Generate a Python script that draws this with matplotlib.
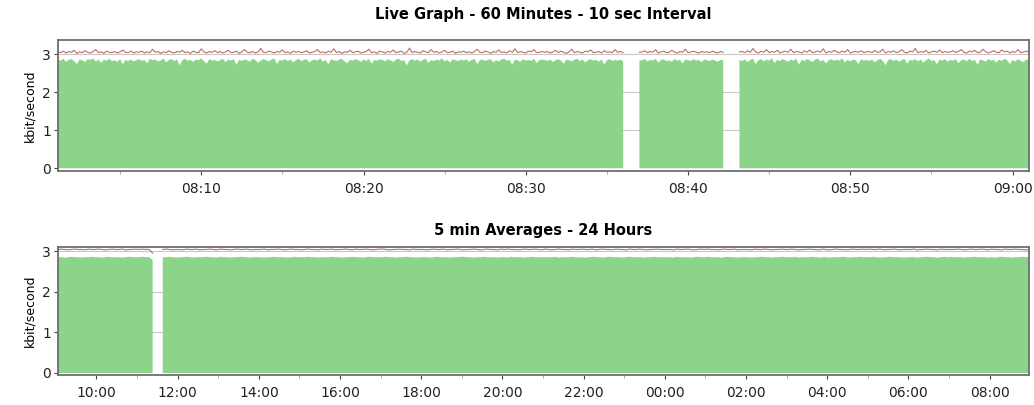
import numpy as np
import pandas as pd
import matplotlib
matplotlib.use('Agg')
import matplotlib.pyplot as plt
import matplotlib.dates as mdates

nan = np.nan

# --- Live graph: 10 sec samples, 08:01:10 .. 09:01:00 (rows of 5 minutes) ---
live_start = '2024-01-01 08:01:10'
live_traffic = [
    2.86, 2.83, 2.88, 2.80, 2.85, 2.87, 2.82, 2.74, 2.86, 2.84, 2.79, 2.87, 2.85, 2.89, 2.81, 2.86, 2.77, 2.85, 2.83, 2.88, 2.82, 2.84, 2.80, 2.87, 2.73, 2.85, 2.82, 2.86, 2.81, 2.84,
    2.87, 2.82, 2.85, 2.76, 2.88, 2.84, 2.86, 2.81, 2.83, 2.89, 2.78, 2.85, 2.87, 2.82, 2.86, 2.71, 2.84, 2.88, 2.83, 2.85, 2.80, 2.86, 2.84, 2.89, 2.82, 2.75, 2.87, 2.83, 2.85, 2.81,
    2.84, 2.88, 2.79, 2.86, 2.83, 2.87, 2.72, 2.85, 2.82, 2.86, 2.84, 2.80, 2.88, 2.85, 2.77, 2.83, 2.87, 2.84, 2.81, 2.86, 2.89, 2.74, 2.85, 2.83, 2.87, 2.82, 2.86, 2.79, 2.84, 2.88,
    2.82, 2.85, 2.87, 2.78, 2.84, 2.86, 2.83, 2.89, 2.80, 2.85, 2.73, 2.87, 2.84, 2.82, 2.86, 2.88, 2.81, 2.76, 2.85, 2.83, 2.87, 2.84, 2.80, 2.86, 2.82, 2.88, 2.75, 2.85, 2.83, 2.86,
    2.85, 2.81, 2.87, 2.84, 2.79, 2.86, 2.88, 2.82, 2.85, 2.70, 2.84, 2.87, 2.83, 2.86, 2.80, 2.85, 2.88, 2.77, 2.84, 2.82, 2.86, 2.83, 2.89, 2.81, 2.85, 2.78, 2.87, 2.84, 2.82, 2.86,
    2.83, 2.87, 2.80, 2.85, 2.88, 2.74, 2.84, 2.86, 2.82, 2.85, 2.87, 2.79, 2.84, 2.81, 2.86, 2.88, 2.83, 2.85, 2.72, 2.86, 2.84, 2.80, 2.87, 2.83, 2.85, 2.82, 2.88, 2.77, 2.84, 2.86,
    2.85, 2.82, 2.86, 2.79, 2.84, 2.87, 2.83, 2.75, 2.86, 2.84, 2.81, 2.85, 2.88, 2.82, 2.86, 2.78, 2.84, 2.87, 2.83, 2.85, 2.80, 2.86, 2.73, 2.84, 2.87, 2.82, 2.85, 2.83, 2.86, 2.81,
    nan, nan, nan, nan, nan, 2.83, 2.84, 2.87, 2.81, 2.85, 2.83, 2.88, 2.78, 2.85, 2.86, 2.82, 2.84, 2.80, 2.87, 2.83, 2.85, 2.76, 2.86, 2.84, 2.82, 2.87, 2.83, 2.85, 2.79, 2.86,
    2.84, 2.82, 2.86, 2.83, 2.80, 2.85, 2.84, nan, nan, nan, nan, nan, 2.85, 2.82, 2.86, 2.79, 2.85, 2.88, 2.74, 2.84, 2.87, 2.81, 2.86, 2.83, 2.89, 2.77, 2.85, 2.82, 2.87, 2.84,
    2.80, 2.86, 2.83, 2.88, 2.72, 2.85, 2.82, 2.87, 2.84, 2.79, 2.86, 2.88, 2.81, 2.85, 2.76, 2.84, 2.87, 2.82, 2.86, 2.83, 2.89, 2.78, 2.85, 2.81, 2.86, 2.84, 2.74, 2.87, 2.83, 2.85,
    2.82, 2.86, 2.79, 2.84, 2.88, 2.83, 2.71, 2.85, 2.87, 2.82, 2.86, 2.80, 2.84, 2.88, 2.75, 2.85, 2.83, 2.87, 2.81, 2.86, 2.78, 2.84, 2.89, 2.82, 2.85, 2.73, 2.86, 2.83, 2.87, 2.80,
    2.85, 2.83, 2.87, 2.76, 2.84, 2.86, 2.81, 2.88, 2.82, 2.85, 2.72, 2.86, 2.84, 2.80, 2.87, 2.83, 2.85, 2.78, 2.86, 2.82, 2.88, 2.84, 2.74, 2.85, 2.81, 2.87, 2.83, 2.79, 2.86, 2.84,
]
live_max = [
    3.06, 3.04, 3.08, 3.03, 3.07, 3.05, 3.10, 3.02, 3.06, 3.04, 3.09, 3.05, 3.03, 3.07, 3.12, 3.04, 3.06, 3.02, 3.08, 3.05, 3.04, 3.07, 3.03, 3.06, 3.11, 3.05, 3.04, 3.08, 3.03, 3.06,
    3.05, 3.08, 3.03, 3.06, 3.04, 3.13, 3.05, 3.07, 3.02, 3.06, 3.04, 3.09, 3.05, 3.03, 3.07, 3.05, 3.10, 3.04, 3.06, 3.02, 3.08, 3.05, 3.04, 3.14, 3.06, 3.03, 3.07, 3.05, 3.09, 3.04,
    3.07, 3.03, 3.06, 3.10, 3.04, 3.05, 3.08, 3.02, 3.06, 3.12, 3.05, 3.04, 3.07, 3.03, 3.06, 3.15, 3.05, 3.04, 3.08, 3.06, 3.03, 3.07, 3.05, 3.11, 3.04, 3.06, 3.02, 3.08, 3.05, 3.07,
    3.04, 3.06, 3.09, 3.03, 3.05, 3.07, 3.12, 3.04, 3.06, 3.03, 3.08, 3.05, 3.14, 3.04, 3.07, 3.02, 3.06, 3.05, 3.10, 3.04, 3.06, 3.08, 3.03, 3.05, 3.07, 3.13, 3.04, 3.06, 3.02, 3.08,
    3.06, 3.03, 3.07, 3.05, 3.11, 3.04, 3.06, 3.08, 3.02, 3.05, 3.16, 3.04, 3.07, 3.05, 3.03, 3.09, 3.06, 3.04, 3.12, 3.05, 3.07, 3.03, 3.06, 3.10, 3.04, 3.05, 3.08, 3.02, 3.06, 3.05,
    3.08, 3.04, 3.06, 3.03, 3.07, 3.13, 3.05, 3.04, 3.08, 3.06, 3.02, 3.07, 3.05, 3.11, 3.04, 3.06, 3.03, 3.09, 3.05, 3.14, 3.04, 3.07, 3.05, 3.03, 3.08, 3.06, 3.12, 3.04, 3.05, 3.07,
    3.05, 3.07, 3.03, 3.06, 3.10, 3.04, 3.08, 3.05, 3.02, 3.06, 3.13, 3.04, 3.07, 3.05, 3.03, 3.08, 3.06, 3.11, 3.04, 3.05, 3.07, 3.03, 3.09, 3.05, 3.06, 3.04, 3.12, 3.05, 3.07, 3.04,
    nan, nan, nan, nan, nan, 3.05, 3.06, 3.09, 3.04, 3.07, 3.05, 3.12, 3.03, 3.06, 3.08, 3.04, 3.05, 3.10, 3.06, 3.03, 3.07, 3.05, 3.13, 3.04, 3.06, 3.08, 3.05, 3.03, 3.07, 3.05,
    3.06, 3.04, 3.08, 3.05, 3.03, 3.07, 3.05, nan, nan, nan, nan, nan, 3.06, 3.07, 3.04, 3.09, 3.05, 3.15, 3.06, 3.03, 3.08, 3.05, 3.12, 3.04, 3.07, 3.05, 3.10, 3.03, 3.06, 3.08,
    3.05, 3.13, 3.04, 3.07, 3.06, 3.03, 3.09, 3.05, 3.11, 3.04, 3.06, 3.08, 3.05, 3.14, 3.03, 3.07, 3.05, 3.10, 3.06, 3.04, 3.08, 3.05, 3.12, 3.03, 3.06, 3.07, 3.05, 3.09, 3.04, 3.06,
    3.07, 3.04, 3.10, 3.05, 3.06, 3.13, 3.03, 3.07, 3.05, 3.09, 3.04, 3.06, 3.12, 3.05, 3.03, 3.08, 3.06, 3.15, 3.04, 3.07, 3.05, 3.10, 3.03, 3.06, 3.08, 3.05, 3.11, 3.04, 3.07, 3.05,
    3.06, 3.09, 3.04, 3.07, 3.12, 3.05, 3.03, 3.08, 3.06, 3.10, 3.04, 3.05, 3.13, 3.07, 3.03, 3.06, 3.09, 3.05, 3.04, 3.11, 3.06, 3.08, 3.03, 3.07, 3.05, 3.12, 3.04, 3.06, 3.08, 3.05,
]

# --- 5 min averages: 09:03 .. 08:58 next day (rows of one hour) ---
avg_start = '2024-01-01 09:03'
avg_traffic = [
    2.85, 2.85, 2.84, 2.85, 2.86, 2.85, 2.85, 2.84, 2.85, 2.85, 2.86, 2.85,
    2.85, 2.84, 2.85, 2.86, 2.85, 2.85, 2.85, 2.84, 2.85, 2.86, 2.85, 2.85,
    2.85, 2.86, 2.85, 2.85, 2.78, nan, nan, 2.85, 2.85, 2.86, 2.85, 2.84,
    2.85, 2.85, 2.86, 2.85, 2.84, 2.85, 2.85, 2.85, 2.86, 2.85, 2.85, 2.84,
    2.86, 2.85, 2.85, 2.84, 2.85, 2.85, 2.86, 2.85, 2.85, 2.84, 2.85, 2.85,
    2.85, 2.84, 2.85, 2.85, 2.86, 2.85, 2.85, 2.85, 2.84, 2.85, 2.86, 2.85,
    2.85, 2.85, 2.86, 2.85, 2.85, 2.84, 2.85, 2.85, 2.85, 2.86, 2.85, 2.85,
    2.84, 2.85, 2.85, 2.86, 2.85, 2.85, 2.84, 2.85, 2.86, 2.85, 2.85, 2.85,
    2.85, 2.86, 2.85, 2.85, 2.84, 2.85, 2.85, 2.86, 2.85, 2.85, 2.84, 2.85,
    2.85, 2.85, 2.84, 2.85, 2.86, 2.85, 2.85, 2.85, 2.84, 2.85, 2.85, 2.86,
    2.86, 2.85, 2.85, 2.84, 2.85, 2.85, 2.86, 2.85, 2.85, 2.85, 2.84, 2.85,
    2.85, 2.84, 2.86, 2.85, 2.85, 2.85, 2.84, 2.85, 2.86, 2.85, 2.85, 2.85,
    2.85, 2.85, 2.85, 2.86, 2.84, 2.85, 2.85, 2.85, 2.86, 2.85, 2.84, 2.85,
    2.84, 2.85, 2.86, 2.85, 2.85, 2.84, 2.85, 2.86, 2.85, 2.85, 2.85, 2.84,
    2.85, 2.86, 2.85, 2.85, 2.85, 2.84, 2.85, 2.85, 2.86, 2.85, 2.85, 2.85,
    2.85, 2.85, 2.84, 2.86, 2.85, 2.85, 2.85, 2.84, 2.85, 2.86, 2.85, 2.85,
    2.86, 2.85, 2.85, 2.85, 2.84, 2.85, 2.86, 2.85, 2.85, 2.84, 2.85, 2.85,
    2.85, 2.84, 2.85, 2.85, 2.86, 2.85, 2.85, 2.84, 2.85, 2.85, 2.86, 2.85,
    2.85, 2.85, 2.86, 2.84, 2.85, 2.85, 2.85, 2.86, 2.85, 2.84, 2.85, 2.85,
    2.84, 2.85, 2.85, 2.85, 2.86, 2.85, 2.84, 2.85, 2.85, 2.86, 2.85, 2.85,
    2.85, 2.86, 2.85, 2.84, 2.85, 2.85, 2.86, 2.85, 2.85, 2.85, 2.84, 2.85,
    2.85, 2.85, 2.84, 2.85, 2.85, 2.86, 2.85, 2.85, 2.84, 2.85, 2.86, 2.85,
    2.86, 2.85, 2.85, 2.85, 2.84, 2.85, 2.85, 2.86, 2.85, 2.85, 2.85, 2.84,
    2.85, 2.84, 2.85, 2.86, 2.85, 2.85, 2.84, 2.85, 2.85, 2.86, 2.85, 2.85,
]
avg_max = [
    3.04, 3.05, 3.04, 3.03, 3.04, 3.05, 3.04, 3.04, 3.03, 3.05, 3.04, 3.04,
    3.05, 3.04, 3.03, 3.04, 3.05, 3.04, 3.04, 3.05, 3.03, 3.04, 3.04, 3.05,
    3.04, 3.05, 3.04, 3.04, 2.95, nan, nan, 3.04, 3.05, 3.04, 3.03, 3.04,
    3.04, 3.03, 3.05, 3.04, 3.04, 3.05, 3.03, 3.04, 3.04, 3.05, 3.04, 3.03,
    3.05, 3.04, 3.04, 3.03, 3.04, 3.05, 3.04, 3.04, 3.05, 3.03, 3.04, 3.04,
    3.04, 3.05, 3.03, 3.04, 3.04, 3.05, 3.04, 3.03, 3.04, 3.05, 3.04, 3.04,
    3.03, 3.04, 3.05, 3.04, 3.04, 3.03, 3.05, 3.04, 3.04, 3.05, 3.03, 3.04,
    3.04, 3.05, 3.04, 3.03, 3.05, 3.04, 3.04, 3.05, 3.04, 3.03, 3.04, 3.05,
    3.05, 3.04, 3.03, 3.04, 3.04, 3.05, 3.04, 3.04, 3.03, 3.05, 3.04, 3.04,
    3.04, 3.03, 3.04, 3.05, 3.04, 3.04, 3.05, 3.03, 3.04, 3.04, 3.05, 3.04,
    3.03, 3.04, 3.04, 3.05, 3.04, 3.03, 3.04, 3.05, 3.04, 3.04, 3.03, 3.05,
    3.04, 3.05, 3.04, 3.04, 3.03, 3.04, 3.05, 3.04, 3.04, 3.05, 3.04, 3.03,
    3.05, 3.04, 3.03, 3.04, 3.05, 3.04, 3.04, 3.03, 3.05, 3.04, 3.04, 3.05,
    3.04, 3.04, 3.05, 3.03, 3.04, 3.05, 3.04, 3.04, 3.03, 3.05, 3.04, 3.04,
    3.03, 3.05, 3.04, 3.04, 3.05, 3.04, 3.03, 3.04, 3.04, 3.05, 3.04, 3.04,
    3.04, 3.04, 3.03, 3.05, 3.04, 3.04, 3.05, 3.04, 3.03, 3.04, 3.05, 3.04,
    3.05, 3.04, 3.04, 3.03, 3.04, 3.05, 3.04, 3.04, 3.05, 3.03, 3.04, 3.04,
    3.04, 3.03, 3.05, 3.04, 3.04, 3.05, 3.04, 3.03, 3.04, 3.04, 3.05, 3.04,
    3.04, 3.05, 3.04, 3.03, 3.04, 3.04, 3.05, 3.04, 3.04, 3.03, 3.05, 3.04,
    3.03, 3.04, 3.05, 3.04, 3.04, 3.03, 3.04, 3.05, 3.04, 3.04, 3.05, 3.04,
    3.05, 3.04, 3.04, 3.05, 3.03, 3.04, 3.04, 3.05, 3.04, 3.03, 3.04, 3.04,
    3.04, 3.05, 3.03, 3.04, 3.04, 3.05, 3.04, 3.04, 3.03, 3.05, 3.04, 3.04,
    3.04, 3.04, 3.05, 3.04, 3.03, 3.04, 3.05, 3.04, 3.04, 3.05, 3.04, 3.03,
    3.05, 3.04, 3.04, 3.03, 3.05, 3.04, 3.04, 3.05, 3.04, 3.04, 3.03, 3.04,
]

titles = ['Live Graph - 60 Minutes - 10 sec Interval', '5 min Averages - 24 Hours']
y_label = 'kbit/second'
y_ticks = [0, 1, 2, 3]

GREEN = '#8cd48a'
RED = '#b04848'
FRAME = '#6e6e6e'

live_times = pd.date_range(live_start, periods=len(live_traffic), freq='10s')
avg_times = pd.date_range(avg_start, periods=len(avg_traffic), freq='5min')

plt.rcParams.update({'font.family': 'DejaVu Sans', 'font.size': 10})
fig = plt.figure(figsize=(10.34, 4.05), dpi=100)
ax_live = fig.add_axes([0.056, 0.577, 0.939, 0.324])
ax_avg = fig.add_axes([0.056, 0.074, 0.939, 0.316])

panels = [
    (ax_live, live_times, live_traffic, live_max, (-0.08, 3.37), 15),
    (ax_avg, avg_times, avg_traffic, avg_max, (-0.05, 3.1), 9),
]

for ax, times, traffic, peak, ylim, title_pad in panels:
    traffic = np.ma.masked_invalid(np.array(traffic, dtype=float))
    peak = np.ma.masked_invalid(np.array(peak, dtype=float))
    ax.fill_between(times, 0, traffic, color=GREEN, linewidth=0, zorder=2)
    ax.plot(times, peak, color=RED, linewidth=0.8, alpha=0.8, zorder=3)
    ax.set_xlim(times[0], times[-1])
    ax.set_ylim(*ylim)
    ax.set_yticks(y_ticks)
    ax.set_ylabel(y_label, fontsize=9, labelpad=4)
    ax.grid(axis='y', color='#c8c8c8', linewidth=0.8, zorder=1)
    ax.set_axisbelow(True)
    # no grid line on the baseline, the gaps stay white down to the frame
    ax.get_ygridlines()[0].set_visible(False)
    for sp in ax.spines.values():
        sp.set_color(FRAME)
        sp.set_linewidth(1.3)
    ax.tick_params(axis='both', colors='#444444', labelcolor='#222222', length=3, width=0.8)
    ax.tick_params(axis='x', which='major', pad=5)
    ax.tick_params(axis='x', which='minor', length=2, colors='#999999')
    ax.tick_params(axis='y', labelsize=10, pad=2)
    ax.set_title(titles[0] if ax is ax_live else titles[1],
                 fontsize=10.5, fontweight='bold', pad=title_pad)

ax_live.xaxis.set_major_locator(mdates.MinuteLocator(byminute=range(0, 60, 10)))
ax_live.xaxis.set_minor_locator(mdates.MinuteLocator(byminute=range(5, 60, 10)))
ax_live.xaxis.set_major_formatter(mdates.DateFormatter('%H:%M'))
ax_avg.xaxis.set_major_locator(mdates.HourLocator(byhour=range(0, 24, 2)))
ax_avg.xaxis.set_minor_locator(mdates.HourLocator(byhour=range(1, 24, 2)))
ax_avg.xaxis.set_major_formatter(mdates.DateFormatter('%H:%M'))

fig.savefig('out.png', dpi=100)
